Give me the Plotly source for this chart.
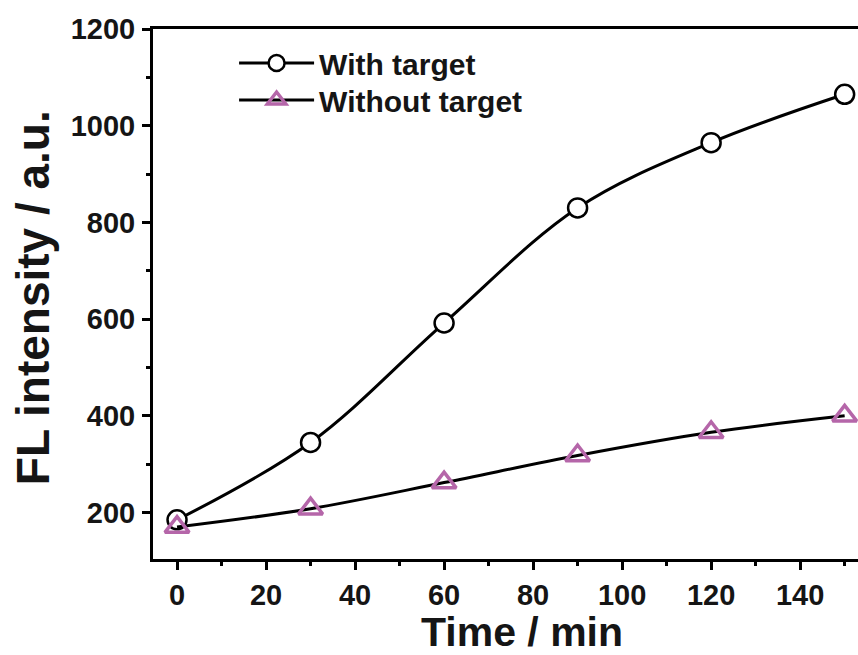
import plotly.graph_objects as go

time_min = [0, 30, 60, 90, 120, 150]
with_target = [185, 345, 592, 830, 965, 1065]
without_target = [170, 208, 262, 318, 366, 400]

x_ticks = [0, 20, 40, 60, 80, 100, 120, 140]
y_ticks = [200, 400, 600, 800, 1000, 1200]

FONT = "Liberation Sans, Arial, sans-serif"
PURPLE = "#b566a9"
TXT = "#151515"

fig = go.Figure()
fig.add_trace(go.Scatter(
    x=time_min, y=with_target, name="With target",
    mode="lines+markers", legend="legend",
    line=dict(color="black", width=3, shape="spline", smoothing=1),
    marker=dict(symbol="circle", size=19, color="white",
                line=dict(color="black", width=2.5)),
))
fig.add_trace(go.Scatter(
    x=time_min, y=without_target, name="Without target",
    mode="lines+markers", legend="legend2",
    line=dict(color="black", width=3, shape="spline", smoothing=1),
    marker=dict(symbol="triangle-up-open", size=21, color=PURPLE,
                line=dict(color=PURPLE, width=3.5)),
))

axis_common = dict(
    showgrid=False, zeroline=False, showline=True, linecolor="black",
    linewidth=3, ticks="outside", ticklen=8, tickwidth=3, tickcolor="black",
    tickfont=dict(family=FONT, size=29, color=TXT, weight="bold"),
)

fig.update_xaxes(
    **axis_common,
    range=[-5.4, 153], tickvals=x_ticks, mirror=True,
    minor=dict(ticks="outside", ticklen=4, tickwidth=3, dtick=10, tick0=0, tickcolor="black"),
    ticklabelstandoff=0,
)
fig.update_yaxes(
    **axis_common,
    range=[104, 1200], tickvals=y_ticks,
    minor=dict(ticks="outside", ticklen=4, tickwidth=3, dtick=100, tick0=0, tickcolor="black"),
    ticklabelstandoff=1,
)

fig.add_annotation(
    text="Time / min", xref="paper", yref="paper",
    x=0.523, y=-0.138, xanchor="center", yanchor="middle", showarrow=False,
    font=dict(family=FONT, size=41, color=TXT, weight="bold"),
)
fig.add_annotation(
    text="FL intensity / a.u.", xref="paper", yref="paper",
    x=-0.17, y=0.4925, xanchor="center", yanchor="middle", showarrow=False,
    textangle=-90,
    font=dict(family=FONT, size=46, color=TXT, weight="bold"),
)

legend_common = dict(
    xanchor="left", yanchor="middle",
    font=dict(family=FONT, size=30, color=TXT, weight="bold"),
    bgcolor="rgba(0,0,0,0)", itemwidth=75,
)

fig.update_layout(
    width=858, height=655,
    margin=dict(l=153, r=0, t=29, b=96),
    paper_bgcolor="white", plot_bgcolor="white",
    showlegend=True,
    legend=dict(x=0.115, y=0.936, **legend_common),
    legend2=dict(x=0.115, y=0.866, **legend_common),
)

fig.write_html("out.html")
